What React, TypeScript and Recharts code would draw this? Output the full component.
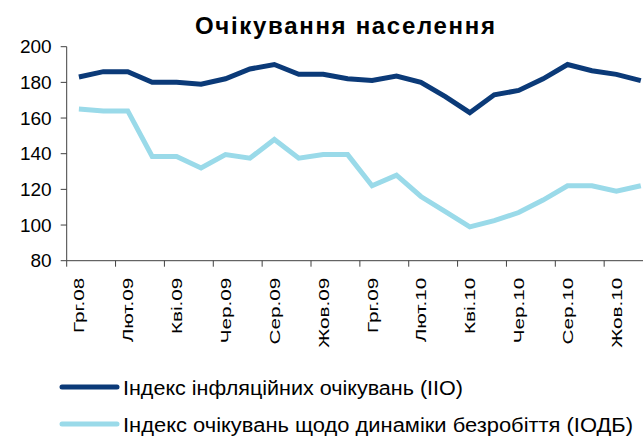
import { Legend, Line, LineChart, XAxis, YAxis } from "recharts";

const months = [
  "Грг.08", "Січ.09", "Лют.09", "Бер.09", "Кві.09", "Тра.09", "Чер.09", "Лип.09",
  "Сер.09", "Вер.09", "Жов.09", "Лис.09", "Грг.09", "Січ.10", "Лют.10", "Бер.10",
  "Кві.10", "Тра.10", "Чер.10", "Лип.10", "Сер.10", "Вер.10", "Жов.10", "Лис.10",
];

const inflationIndex = [
  183, 186, 186, 180, 180, 179, 182, 187.5, 190, 184.5, 184.5, 182,
  181, 183.5, 180, 172, 163, 173, 175.5, 182, 190, 186.5, 184.5, 181,
];

const unemploymentIndex = [
  165, 164, 164, 138.5, 138.5, 132, 139.5, 137.5, 148, 137.5, 139.5, 139.5,
  122, 128, 116, 107.5, 99, 102.5, 107, 114, 122, 122, 119, 122,
];

const yTicks = [80, 100, 120, 140, 160, 180, 200];

const title = "Очікування населення";
const inflationName = "Індекс інфляційних очікувань (ІІО)";
const unemploymentName = "Індекс очікувань щодо динаміки безробіття (ІОДБ)";

const data = months.map((m, i) => ({
  month: m,
  io: inflationIndex[i],
  iodb: unemploymentIndex[i],
}));

const FONT = "'Liberation Sans', Arial, sans-serif";
const AXIS = "#404040";
const HALF_BAND = 12.2;

function MonthTick(props: any) {
  const { x, y, payload } = props;
  return (
    <g>
      <line
        x1={x - HALF_BAND}
        x2={x - HALF_BAND}
        y1={y}
        y2={y + 6}
        stroke={AXIS}
      />
      <g transform={`translate(${x + 5.5}, ${y + 17}) rotate(-90) scale(1.38, 1)`}>
        <text
          x={0}
          y={0}
          textAnchor="end"
          fontSize={15}
          fontFamily={FONT}
          fill="#000"
        >
          {payload.value}
        </text>
      </g>
    </g>
  );
}

const legendOrder = [
  { key: "io", width: 340 },
  { key: "iodb", width: 510 },
];

function LegendContent(props: any) {
  const items = props.payload || [];
  return (
    <svg width={643} height={68}>
      {legendOrder.map((entry, i) => {
        const item = items.find((p: any) => p.dataKey === entry.key);
        if (!item) return null;
        return (
          <g key={entry.key}>
            <line
              x1={62}
              x2={117}
              y1={17 + i * 37}
              y2={17 + i * 37}
              stroke={item.color}
              strokeWidth={5}
              strokeLinecap="round"
            />
            <text
              x={123}
              y={25 + i * 37}
              fontSize={20}
              fontFamily={FONT}
              fill="#000"
              textLength={entry.width}
              lengthAdjust="spacingAndGlyphs"
            >
              {item.value}
            </text>
          </g>
        );
      })}
    </svg>
  );
}

export default function App() {
  return (
    <div
      style={{
        position: "absolute",
        left: 0,
        top: 0,
        width: 643,
        height: 438,
        overflow: "hidden",
        background: "#fff",
      }}
    >
      <svg width={643} height={45} style={{ position: "absolute", left: 0, top: 0 }}>
        <text
          x={195}
          y={34}
          fontSize={24}
          fontWeight="bold"
          fontFamily={FONT}
          fill="#000"
          textLength={300}
          lengthAdjust="spacing"
        >
          {title}
        </text>
      </svg>
      <LineChart
        width={653}
        height={438}
        data={data}
        margin={{ top: 46.7, right: 0, bottom: 0, left: 0 }}
      >
        <XAxis
          dataKey="month"
          interval={1}
          height={177.3}
          padding={{ left: HALF_BAND, right: HALF_BAND }}
          tickSize={0}
          tickMargin={0}
          tickLine={false}
          stroke={AXIS}
          tick={<MonthTick />}
        />
        <YAxis
          width={66.7}
          domain={[80, 200]}
          ticks={yTicks}
          tickSize={6}
          tickMargin={9}
          stroke={AXIS}
          tick={{ fontSize: 19, fill: "#000", fontFamily: FONT }}
        />
        <Legend
          layout="horizontal"
          verticalAlign="middle"
          align="center"
          wrapperStyle={{ left: 0, top: 370, width: 643, height: 68 }}
          content={<LegendContent />}
        />
        <Line
          dataKey="io"
          name={inflationName}
          stroke="#0B3A78"
          strokeWidth={5}
          dot={false}
          isAnimationActive={false}
        />
        <Line
          dataKey="iodb"
          name={unemploymentName}
          stroke="#9ADAE9"
          strokeWidth={5}
          dot={false}
          isAnimationActive={false}
        />
      </LineChart>
    </div>
  );
}
